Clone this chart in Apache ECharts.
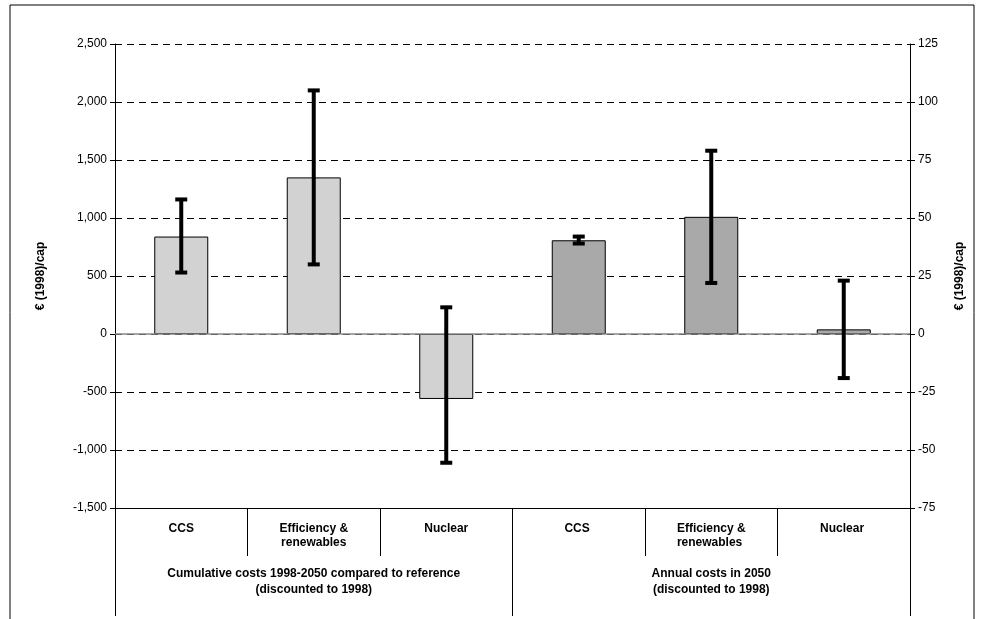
<!DOCTYPE html>
<html lang="en">
<head>
  <meta charset="utf-8">
  <title>Costs per capita</title>
  <style>
    html, body { margin: 0; padding: 0; background: #fff; }
    .box { width: 984px; height: 619px; }
  </style>
</head>
<body>
  <script src="https://cdn.jsdelivr.net/npm/echarts@6/dist/echarts.min.js"></script>
  <div class="box"></div>
  <script>
    var categories = ['CCS', 'Efficiency &\nrenewables', 'Nuclear', 'CCS ', 'Efficiency &\nrenewables ', 'Nuclear '];
    var groups = ['Cumulative costs 1998-2050 compared to reference\n(discounted to 1998)', 'Annual costs in 2050\n(discounted to 1998)'];
    // left axis (cumulative), EUR/cap
    var cumValues = [840, 1350, -560, null, null, null];
    var cumLow = [530, 600, -1110, null, null, null];
    var cumHigh = [1160, 2100, 230, null, null, null];
    // right axis (annual), EUR/cap
    var annValues = [null, null, null, 40.4, 50.5, 2];
    var annLow = [null, null, null, 39, 22, -19];
    var annHigh = [null, null, null, 42, 79, 23];

    var font = 'Liberation Sans, Arial, sans-serif';
    var chart = echarts.init(document.querySelector('.box'));

    function errItem(low, high) {
      return function (params, api) {
        var i = params.dataIndex;
        if (low[i] == null) return;
        var top = api.coord([i, high[i]]);
        var bot = api.coord([i, low[i]]);
        var s = { stroke: '#000', lineWidth: 4 };
        return {
          type: 'group', children: [
            { type: 'line', shape: { x1: top[0], y1: top[1], x2: bot[0], y2: bot[1] }, style: s },
            { type: 'line', shape: { x1: top[0] - 6, y1: top[1], x2: top[0] + 6, y2: top[1] }, style: s },
            { type: 'line', shape: { x1: bot[0] - 6, y1: bot[1], x2: bot[0] + 6, y2: bot[1] }, style: s }
          ]
        };
      };
    }

    var option = {
      animation: false,
      textStyle: { fontFamily: font },
      grid: { left: 115, right: 74, top: 44, bottom: 111 },
      graphic: [
        { type: 'rect', shape: { x: 10, y: 5, width: 964, height: 620 }, style: { fill: 'none', stroke: '#000', lineWidth: 1 }, silent: true }
      ],
      xAxis: [
        {
          type: 'category', data: categories, position: 'bottom',
          axisLine: { show: true, onZero: false, lineStyle: { color: '#000' } },
          axisTick: { show: true, length: 48, interval: 0, lineStyle: { color: '#000' } },
          axisLabel: { interval: 0, fontWeight: 'bold', fontSize: 12, color: '#000', margin: 14, lineHeight: 14 }
        },
        {
          type: 'category', data: groups, position: 'bottom', offset: 48,
          axisLine: { show: false, onZero: false },
          axisTick: { show: true, length: 60, interval: 0, lineStyle: { color: '#000' } },
          axisLabel: { interval: 0, fontWeight: 'bold', fontSize: 12, color: '#000', margin: 10, lineHeight: 16 }
        }
      ],
      yAxis: [
        {
          type: 'value', min: -1500, max: 2500, interval: 500,
          name: '€ (1998)/cap', nameLocation: 'middle', nameGap: 68, nameRotate: 90,
          nameTextStyle: { fontWeight: 'bold', fontSize: 12, color: '#000' },
          axisLine: { show: true, lineStyle: { color: '#000' } },
          axisTick: { show: true, length: 5 },
          axisLabel: { color: '#000', fontSize: 12, formatter: function (v) { return v.toLocaleString('en-US'); } },
          splitLine: { lineStyle: { color: '#000', type: [7, 5], width: 1 } }
        },
        {
          type: 'value', min: -75, max: 125, interval: 25,
          name: '€ (1998)/cap', nameLocation: 'middle', nameGap: 44, nameRotate: 90,
          nameTextStyle: { fontWeight: 'bold', fontSize: 12, color: '#000' },
          axisLine: { show: true, lineStyle: { color: '#000' } },
          axisTick: { show: true, length: 5 },
          axisLabel: { color: '#000', fontSize: 12 },
          splitLine: { show: false }
        }
      ],
      series: [
        {
          type: 'bar', data: cumValues, yAxisIndex: 0, barWidth: 54, barGap: '-100%',
          itemStyle: { color: '#d2d2d2', borderColor: '#000', borderWidth: 1 }
        },
        {
          type: 'bar', data: annValues, yAxisIndex: 1, barWidth: 54, barGap: '-100%',
          itemStyle: { color: '#a9a9a9', borderColor: '#000', borderWidth: 1 }
        },
        { type: 'custom', yAxisIndex: 0, data: cumHigh, renderItem: errItem(cumLow, cumHigh), z: 10 },
        { type: 'custom', yAxisIndex: 1, data: annHigh, renderItem: errItem(annLow, annHigh), z: 10 },
        {
          type: 'line', yAxisIndex: 0, data: [], silent: true,
          markLine: { symbol: 'none', silent: true, label: { show: false }, lineStyle: { color: '#888', type: 'solid', width: 1.5 }, data: [{ yAxis: 0 }] }
        }
      ]
    };
    chart.setOption(option);
  </script>
</body>
</html>
